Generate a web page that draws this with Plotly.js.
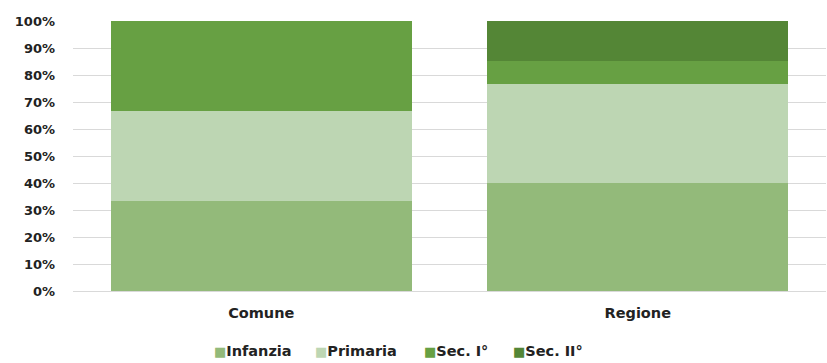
<!DOCTYPE html>
<html><head><meta charset="utf-8">
<script src="https://cdn.plot.ly/plotly-3.0.1.min.js"></script>
<style>html,body{margin:0;padding:0;background:#fff}#c{width:827px;height:363px}</style>
</head><body><div id="c"></div>
<script>
const categories = ["Comune", "Regione"];
const seriesNames = ["Infanzia", "Primaria", "Sec. I°", "Sec. II°"];
const infanzia = [0.3333, 0.40];
const primaria = [0.3333, 0.367];
const secI = [0.3334, 0.085];
const secII = [0, 0.148];
const colors = ["#93BA7A", "#BDD6B3", "#67A043", "#548636"];
const values = [infanzia, primaria, secI, secII];
const font = {family: "DejaVu Sans, Verdana, sans-serif", size: 13, color: "#222", weight: "bold"};
const bigFont = {family: "DejaVu Sans, Verdana, sans-serif", size: 14.5, color: "#222", weight: "bold"};
const traces = values.map((v, i) => ({
  type: "bar", x: categories, y: v, name: seriesNames[i],
  marker: {color: colors[i], line: {width: 0}}, hoverinfo: "skip", showlegend: false
}));
// legend drawn as text annotations (coloured square glyph + label)
const legendX = [0.184, 0.319, 0.464, 0.582];
const annotations = seriesNames.map((n, i) => ({
  xref: "paper", yref: "paper", x: legendX[i], y: -0.222, xanchor: "left", yanchor: "middle",
  showarrow: false, font: bigFont,
  text: "<span style='color:" + colors[i] + ";font-size:13px'>■</span>" + n
}));
Plotly.newPlot("c", traces, {
  barmode: "stack", bargap: 0.2,
  width: 827, height: 363,
  margin: {l: 73, r: 1, t: 21, b: 72},
  paper_bgcolor: "#fff", plot_bgcolor: "#fff",
  font: font,
  xaxis: {tickfont: bigFont, showline: true, linecolor: "#d9d9d9", linewidth: 1, ticks: "", ticklen: 0, showgrid: false, automargin: false, ticklabelstandoff: 9},
  yaxis: {range: [0, 1], tickformat: ".0%", dtick: 0.1, tickfont: font, gridcolor: "#d9d9d9", gridwidth: 1, zeroline: false, ticks: "", ticklabelstandoff: 17, automargin: false},
  showlegend: false,
  annotations: annotations
}, {displayModeBar: false, staticPlot: true});
</script></body></html>
